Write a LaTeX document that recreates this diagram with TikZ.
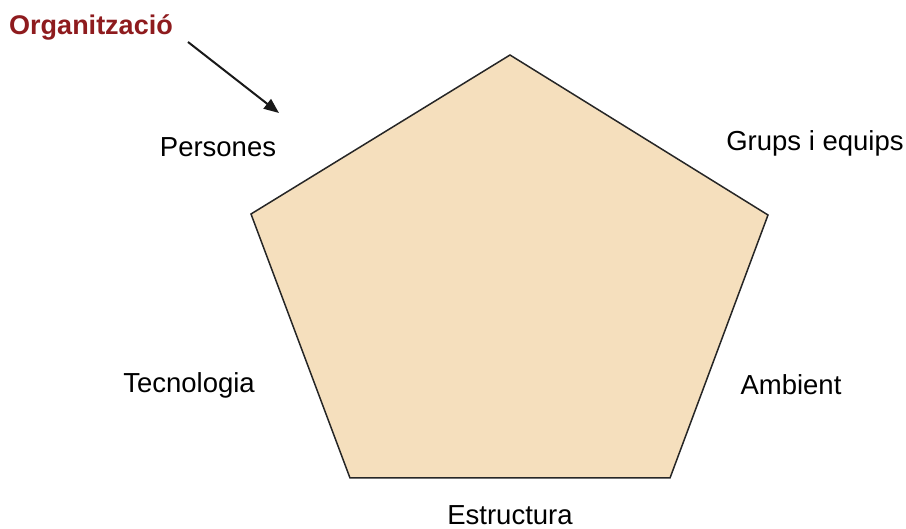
\documentclass[tikz,border=0pt]{standalone}
\usepackage{fontspec}
\setmainfont{Liberation Sans}
\usetikzlibrary{arrows.meta}
\definecolor{pentfill}{HTML}{F5DFBD}
\definecolor{orgred}{HTML}{8E1B1E}
\begin{document}
\begin{tikzpicture}[x=1pt,y=-1pt,
  lbl/.style={font=\fontsize{27.5}{32}\selectfont, text=black, inner sep=0pt},
  orglbl/.style={font=\fontsize{27}{32}\selectfont\bfseries, text=orgred, inner sep=0pt},
  pent/.style={fill=pentfill, draw=black!85, line width=1.5pt, line join=miter},
  arr/.style={draw=black!90, line width=2pt, -{Triangle[length=15pt,width=12pt]}}]
\useasboundingbox (0,0) rectangle (906,529);
\coordinate (v1) at (510,55);
\coordinate (v2) at (768,215);
\coordinate (v3) at (670,478);
\coordinate (v4) at (350,478);
\coordinate (v5) at (251,214);
\draw[pent] (v1) -- (v2) -- (v3) -- (v4) -- (v5) -- cycle;
\node[orglbl] (org) at (91,27) {Organització};
\coordinate (a1) at (188,42);
\coordinate (a2) at (279,113);
\draw[arr] (a1) -- (a2);
\node[lbl] (pers) at (218,147) {Persones};
\node[lbl] (grups) at (815,143) {Grups i equips};
\node[lbl] (tec) at (189,385) {Tecnologia};
\node[lbl] (amb) at (791,385) {Ambient};
\node[lbl,anchor=base] (est) at (510,525) {Estructura};
\end{tikzpicture}
\end{document}
